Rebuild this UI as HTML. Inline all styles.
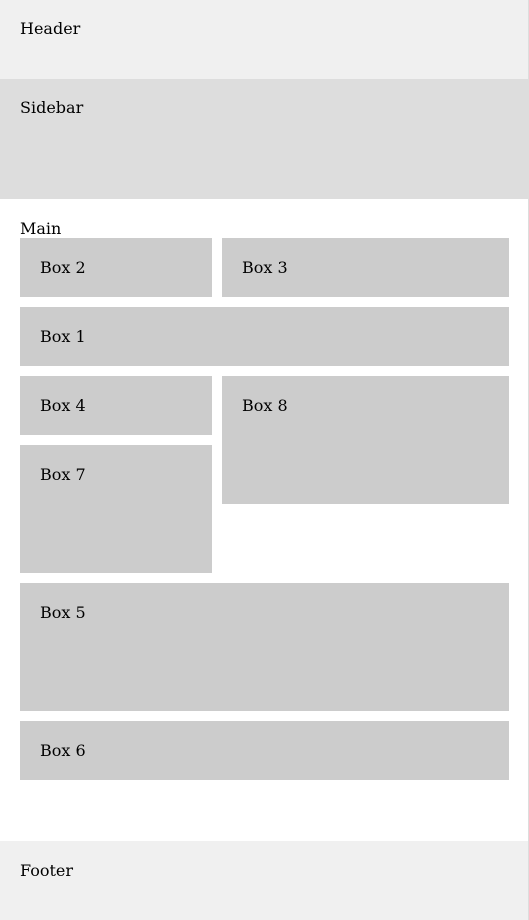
<!DOCTYPE html>
<html><head><style>
body{margin:0;width:529px;height:920px;position:relative;font-family:"DejaVu Serif",serif;font-size:16px;color:#000;background:#fff;overflow:hidden}
div{position:absolute;box-sizing:border-box}
.t{line-height:19px}
.b{background:#ccc;padding:20px 20px}
</style></head><body>
<div style="left:0;top:0;width:528px;height:79px;background:#f0f0f0;padding:19px 20px" class="t">Header</div>
<div style="left:0;top:79px;width:528px;height:120px;background:#ddd;padding:19px 20px" class="t">Sidebar</div>
<div style="left:20px;top:219px" class="t">Main</div>
<div class="b t" style="left:20px;top:238px;width:192px;height:59px">Box 2</div>
<div class="b t" style="left:222px;top:238px;width:287px;height:59px">Box 3</div>
<div class="b t" style="left:20px;top:307px;width:489px;height:59px">Box 1</div>
<div class="b t" style="left:20px;top:376px;width:192px;height:59px">Box 4</div>
<div class="b t" style="left:222px;top:376px;width:287px;height:128px">Box 8</div>
<div class="b t" style="left:20px;top:445px;width:192px;height:128px">Box 7</div>
<div class="b t" style="left:20px;top:583px;width:489px;height:128px">Box 5</div>
<div class="b t" style="left:20px;top:721px;width:489px;height:59px">Box 6</div>
<div style="left:0;top:841px;width:528px;height:79px;background:#f0f0f0;padding:20px 20px" class="t">Footer</div>
<div style="left:528px;top:0;width:1px;height:920px;background:#ddd"></div>
</body></html>
